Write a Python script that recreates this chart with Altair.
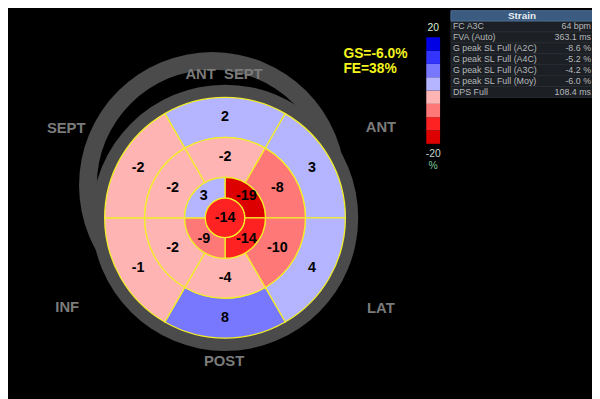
import math
import altair as alt
import pandas as pd

# ---------------- data ----------------
# Bullseye (17 segments). Angles: degrees clockwise from 12 o'clock.
basal_vals = [2, 3, 4, 8, -1, -2]        # top, upper-right, lower-right, bottom, lower-left, upper-left
mid_vals = [-2, -8, -10, -4, -2, -2]
apical_vals = [-19, -14, -9, 3]          # upper-right, lower-right, lower-left, upper-left
apex_vals = [-14]
ring_radii = [0, 20, 41, 81.5, 122]      # apex, apical, mid, basal outer radii (px)

# colour bar
bar_levels = [-20, -15, -10, -5, 0, 5, 10, 15]
bar_colors = ["#dc0000", "#ff2222", "#ff7878", "#ffb4b4",
              "#b4b4ff", "#7878ff", "#3434ff", "#0000e4"]

# info table
table_labels = ["FC A3C", "FVA (Auto)", "G peak SL Full (A2C)", "G peak SL Full (A4C)",
                "G peak SL Full (A3C)", "G peak SL Full (Moy)", "DPS Full"]
table_values = ["64 bpm", "363.1 ms", "-8.6 %", "-5.2 %", "-4.2 %", "-6.0 %", "108.4 ms"]

view_labels = ["ANT\u00a0\u00a0SEPT", "SEPT", "ANT", "INF", "LAT", "POST"]
view_label_x = [227, 67, 386, 68, 386, 227]
view_label_y = [72, 127, 126, 308, 309, 363]

gs_text = ["GS=-6.0%", "FE=38%"]

# ---------------- build tables ----------------
OFF = 8  # page margin: chart origin sits at page (8, 8)

segs = []
for i, v in enumerate(basal_vals):
    t1 = -30 + 60 * i
    segs.append(dict(t1=t1, t2=t1 + 60, r1=ring_radii[3], r2=ring_radii[4], v=v))
for i, v in enumerate(mid_vals):
    t1 = -30 + 60 * i
    segs.append(dict(t1=t1, t2=t1 + 60, r1=ring_radii[2], r2=ring_radii[3], v=v))
for i, v in enumerate(apical_vals):
    t1 = 90 * i
    segs.append(dict(t1=t1, t2=t1 + 90, r1=ring_radii[1], r2=ring_radii[2], v=v))
for v in apex_vals:
    segs.append(dict(t1=0, t2=360, r1=0, r2=ring_radii[1], v=v))
seg_df = pd.DataFrame(segs)
seg_df["tm"] = (seg_df.t1 + seg_df.t2) / 2
seg_df["rm"] = (seg_df.r1 + seg_df.r2) / 2
seg_df.loc[seg_df.r1 == 0, "rm"] = 0
seg_df["lbl"] = seg_df.v.astype(str)

bar_df = pd.DataFrame({"lo": bar_levels})
bar_df["hi"] = bar_df.lo + 5
bar_df["v"] = bar_df.lo + 2.5

tab_df = pd.DataFrame({"row": range(len(table_labels)), "label": table_labels, "value": table_values})
tab_df["row2"] = tab_df.row + 1
tab_df["rowm"] = tab_df.row + 0.5

lab_df = pd.DataFrame({"t": view_labels, "x": view_label_x, "y": view_label_y})

FONT = "Liberation Sans"
CX, CY = 228 - OFF, 218 - OFF
BX, BY = 215 - OFF, 185 - OFF
GRAY = "#4b4b4b"

theta_sc = alt.Scale(domain=[0, 360], range=[0, 2 * math.pi])
rad_sc = alt.Scale(type="linear", domain=[0, 135], range=[0, 135])
col_sc = alt.Scale(type="threshold", domain=bar_levels[1:], range=bar_colors)
page_x = alt.Scale(domain=[0, 600], range=[-OFF, 600 - OFF])
page_y = alt.Scale(domain=[0, 399], range=[-OFF, 399 - OFF])

ring_df = pd.DataFrame({"t1": [0], "t2": [360], "r1": [117], "r2": [135]})
disk_df = pd.DataFrame({"t1": [0], "t2": [360], "r1": [0], "r2": [135]})

back_ring = alt.Chart(ring_df).mark_arc(fill=GRAY).encode(
    theta=alt.Theta("t1:Q", scale=theta_sc, stack=False), theta2="t2:Q",
    radius=alt.Radius("r1:Q", scale=rad_sc), radius2="r2:Q",
    x=alt.value(BX), y=alt.value(BY))

front_disk = alt.Chart(disk_df).mark_arc(fill=GRAY).encode(
    theta=alt.Theta("t1:Q", scale=theta_sc, stack=False), theta2="t2:Q",
    radius=alt.Radius("r1:Q", scale=rad_sc), radius2="r2:Q",
    x=alt.value(CX), y=alt.value(CY))

segments = alt.Chart(seg_df).mark_arc(stroke="#f2ee2a", strokeWidth=1.3).encode(
    theta=alt.Theta("t1:Q", scale=theta_sc, stack=False), theta2="t2:Q",
    radius=alt.Radius("r1:Q", scale=rad_sc), radius2="r2:Q",
    color=alt.Color("v:Q", scale=col_sc, legend=None),
    x=alt.value(CX), y=alt.value(CY))

seg_text = alt.Chart(seg_df).mark_text(font=FONT, fontSize=14.5, fontWeight="bold",
                                       color="#000000", baseline="middle", align="center").encode(
    theta=alt.Theta("tm:Q", scale=theta_sc, stack=False),
    radius=alt.Radius("rm:Q", scale=rad_sc),
    text="lbl:N", x=alt.value(CX), y=alt.value(CY))

view_text = alt.Chart(lab_df).mark_text(font=FONT, fontSize=15, fontWeight="bold",
                                        color="#7b7b7b", baseline="middle", align="center").encode(
    x=alt.X("x:Q", scale=page_x, axis=None),
    y=alt.Y("y:Q", scale=page_y, axis=None),
    text="t:N")

gs_df = pd.DataFrame({"t": gs_text, "k": [0, 1]})
gs_layer = alt.Chart(gs_df).mark_text(font=FONT, fontSize=14, fontWeight="bold",
                                      color="#f4f41c", baseline="middle", align="left").encode(
    x=alt.value(348 - OFF),
    y=alt.Y("k:Q", scale=alt.Scale(domain=[0, 1], range=[51.5 - OFF, 67.5 - OFF]), axis=None),
    text="t:N")

cbar = alt.Chart(bar_df).mark_rect().encode(
    x=alt.value(432 - OFF), x2=alt.value(446 - OFF),
    y=alt.Y("lo:Q", scale=alt.Scale(domain=[-20, 20], range=[143 - OFF, 35 - OFF]), axis=None),
    y2="hi:Q",
    color=alt.Color("v:Q", scale=col_sc, legend=None))

cbar_lbl_df = pd.DataFrame({"t": ["20", "-20", "%"], "y": [26, 153, 166],
                            "c": ["#d4f0d4", "#c4d4cc", "#7cc89c"]})
cbar_lbl = alt.Chart(cbar_lbl_df).mark_text(font=FONT, fontSize=10.5, baseline="middle",
                                            align="center").encode(
    x=alt.value(439 - OFF),
    y=alt.Y("y:Q", scale=page_y, axis=None),
    text="t:N", color=alt.Color("c:N", scale=None))

# table (header starts at the top edge of the drawable area)
hdr_df = pd.DataFrame({"t": ["Strain"]})
hdr_rect = alt.Chart(hdr_df).mark_rect(fill="#3b5c80", stroke="#4d6f94", strokeWidth=1).encode(
    x=alt.value(457 - OFF), x2=alt.value(601 - OFF), y=alt.value(0), y2=alt.value(10.5))
hdr_text = alt.Chart(hdr_df).mark_text(font=FONT, fontSize=10, fontWeight="bold",
                                       color="#e6edf4", baseline="middle", align="center").encode(
    x=alt.value(529 - OFF), y=alt.value(5.5), text="t:N")

row_y = alt.Scale(domain=[0, 7], range=[10.5, 88])
row_rect = alt.Chart(tab_df).mark_rect(fill="#1c1f23", stroke="#2c3036", strokeWidth=0.8).encode(
    x=alt.value(457 - OFF), x2=alt.value(601 - OFF),
    y=alt.Y("row:Q", scale=row_y, axis=None), y2="row2:Q")
row_lbl = alt.Chart(tab_df).mark_text(font=FONT, fontSize=9, color="#b4b8bc",
                                      baseline="middle", align="left").encode(
    x=alt.value(459 - OFF), y=alt.Y("rowm:Q", scale=row_y, axis=None), text="label:N")
row_val = alt.Chart(tab_df).mark_text(font=FONT, fontSize=9, color="#b4b8bc",
                                      baseline="middle", align="right").encode(
    x=alt.value(599 - OFF), y=alt.Y("rowm:Q", scale=row_y, axis=None), text="value:N")

chart = alt.layer(
    back_ring, front_disk, segments, seg_text, view_text, gs_layer,
    cbar, cbar_lbl, row_rect, row_lbl, row_val, hdr_rect, hdr_text
).resolve_scale(
    x="independent", y="independent", color="independent",
    theta="independent", radius="independent"
).properties(
    width=600 - OFF, height=399 - OFF, padding=0, autosize="none", background="#000000"
).configure_view(stroke=None)

chart.save("out.html", embed_options={"renderer": "svg", "actions": False})
